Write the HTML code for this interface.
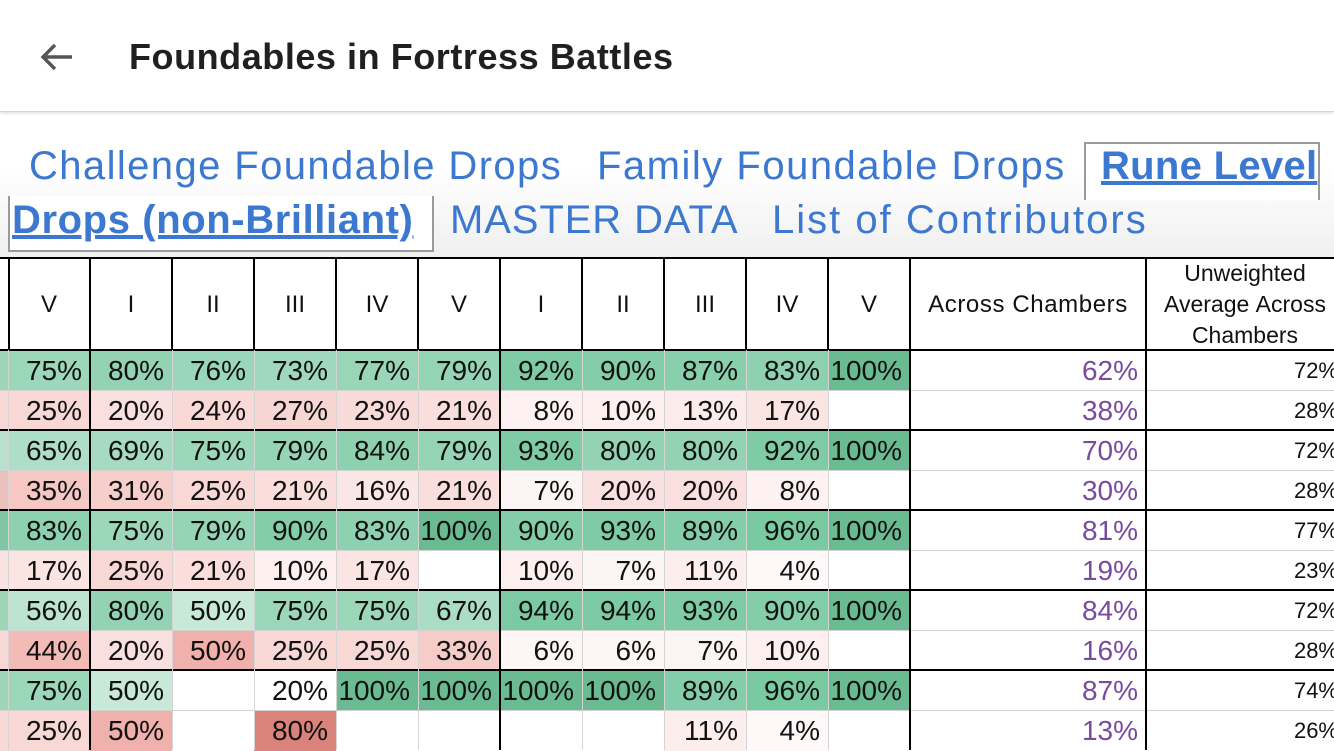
<!DOCTYPE html>
<html><head><meta charset="utf-8"><style>
html,body{margin:0;padding:0;width:1334px;height:750px;overflow:hidden;background:#fff;font-family:"Liberation Sans",Arial,sans-serif;}
.top{position:absolute;left:0;top:0;width:1334px;height:111px;background:#fff;border-bottom:1px solid #d8d8d8;box-shadow:0 1px 3px rgba(0,0,0,.15);z-index:5}
.title{position:absolute;left:129px;top:36px;font-size:36px;font-weight:bold;color:#202020;letter-spacing:0.55px}
.arrow{position:absolute;left:38px;top:40px;width:36px;height:34px}
.tabs{position:absolute;left:0;top:112px;width:1334px;height:146px;background:linear-gradient(#fff 0%,#fff 40%,#efefef 100%)}
.t{position:absolute;font-size:40px;color:#3c78d0;white-space:nowrap}
.act{font-weight:bold;text-decoration:underline;}
.box{position:absolute;border:2px solid #9a9a9a;background:#fff}
table{position:absolute;left:0;top:258px;border-collapse:collapse;table-layout:fixed;width:1338px}
td{padding:0;height:40px;line-height:30px;font-size:28px;text-align:right;padding-right:8px;white-space:nowrap;overflow:hidden;color:#111;box-sizing:border-box}
tr.h td{height:92px;font-size:24px;text-align:center;padding:0;line-height:31px;overflow:hidden}
td.p{color:#7a4a9e;padding-right:8px;font-size:28px}
td.u{font-size:22px;padding-right:0}
.l{position:absolute;}
</style></head><body>
<div class="top">
<svg class="arrow" viewBox="0 0 36 34"><path d="M34 17H6M17 5L5 17l12 12" stroke="#555" stroke-width="3.4" fill="none"/></svg>
<div class="title">Foundables in Fortress Battles</div>
</div>
<div class="tabs">
<div class="box" style="left:1084px;top:30px;width:232px;height:56px;border-bottom:none"></div>
<div class="box" style="left:8px;top:84px;width:422px;height:54px;border-top:none"></div>
<div class="t" style="left:29px;top:32px;letter-spacing:1.4px">Challenge Foundable Drops</div>
<div class="t" style="left:597px;top:32px;letter-spacing:1.5px">Family Foundable Drops</div>
<div class="t act" style="left:1101px;top:32px;letter-spacing:0.3px">Rune Level</div>
<div class="t act" style="left:12px;top:86px;letter-spacing:0.6px">Drops (non-Brilliant)</div>
<div class="t" style="left:450px;top:86px;letter-spacing:0.9px">MASTER DATA</div>
<div class="t" style="left:772px;top:86px;letter-spacing:2px">List of Contributors</div>
</div>
<table>
<colgroup><col style="width:8px"><col style="width:82px"><col style="width:82px"><col style="width:82px"><col style="width:82px"><col style="width:82px"><col style="width:82px"><col style="width:82px"><col style="width:82px"><col style="width:82px"><col style="width:82px"><col style="width:82px"><col style="width:236px"><col style="width:192px"></colgroup>
<tr class="h"><td></td><td>V</td><td>I</td><td>II</td><td>III</td><td>IV</td><td>V</td><td>I</td><td>II</td><td>III</td><td>IV</td><td>V</td><td style="letter-spacing:0.6px">Across Chambers</td><td style="font-size:23px;padding-left:6px">Unweighted<br>Average&nbsp;Across<br>Chambers</td></tr>
<tr><td style="background:#9dd6b7"></td><td style="background:rgb(156,215,186)">75%</td><td style="background:rgb(147,211,180)">80%</td><td style="background:rgb(154,214,185)">76%</td><td style="background:rgb(159,216,188)">73%</td><td style="background:rgb(153,214,184)">77%</td><td style="background:rgb(149,212,181)">79%</td><td style="background:rgb(127,203,166)">92%</td><td style="background:rgb(131,205,168)">90%</td><td style="background:rgb(136,207,172)">87%</td><td style="background:rgb(142,209,177)">83%</td><td style="background:rgb(106,187,145)">100%</td><td class="p">62%</td><td class="u">72%</td></tr>
<tr><td style="background:#f7d8d5"></td><td style="background:rgb(248,216,213)">25%</td><td style="background:rgb(249,224,222)">20%</td><td style="background:rgb(248,217,214)">24%</td><td style="background:rgb(247,213,210)">27%</td><td style="background:rgb(248,219,217)">23%</td><td style="background:rgb(249,222,220)">21%</td><td style="background:rgb(253,242,241)">8%</td><td style="background:rgb(252,239,238)">10%</td><td style="background:rgb(251,235,234)">13%</td><td style="background:rgb(250,229,227)">17%</td><td></td><td class="p">38%</td><td class="u">28%</td></tr>
<tr><td style="background:#b8e0cb"></td><td style="background:rgb(174,222,199)">65%</td><td style="background:rgb(166,219,193)">69%</td><td style="background:rgb(156,215,186)">75%</td><td style="background:rgb(149,212,181)">79%</td><td style="background:rgb(141,209,175)">84%</td><td style="background:rgb(149,212,181)">79%</td><td style="background:rgb(126,203,165)">93%</td><td style="background:rgb(147,211,180)">80%</td><td style="background:rgb(147,211,180)">80%</td><td style="background:rgb(127,203,166)">92%</td><td style="background:rgb(106,187,145)">100%</td><td class="p">70%</td><td class="u">72%</td></tr>
<tr><td style="background:#eec0bb"></td><td style="background:rgb(245,200,196)">35%</td><td style="background:rgb(246,207,203)">31%</td><td style="background:rgb(248,216,213)">25%</td><td style="background:rgb(249,222,220)">21%</td><td style="background:rgb(250,230,228)">16%</td><td style="background:rgb(249,222,220)">21%</td><td style="background:rgb(253,244,244)">7%</td><td style="background:rgb(249,224,222)">20%</td><td style="background:rgb(249,224,222)">20%</td><td style="background:rgb(253,242,241)">8%</td><td></td><td class="p">30%</td><td class="u">28%</td></tr>
<tr><td style="background:#7fc7a2"></td><td style="background:rgb(142,209,177)">83%</td><td style="background:rgb(156,215,186)">75%</td><td style="background:rgb(149,212,181)">79%</td><td style="background:rgb(131,205,168)">90%</td><td style="background:rgb(142,209,177)">83%</td><td style="background:rgb(106,187,145)">100%</td><td style="background:rgb(131,205,168)">90%</td><td style="background:rgb(126,203,165)">93%</td><td style="background:rgb(132,205,170)">89%</td><td style="background:rgb(121,201,161)">96%</td><td style="background:rgb(106,187,145)">100%</td><td class="p">81%</td><td class="u">77%</td></tr>
<tr><td style="background:#f9e3e1"></td><td style="background:rgb(250,229,227)">17%</td><td style="background:rgb(248,216,213)">25%</td><td style="background:rgb(249,222,220)">21%</td><td style="background:rgb(252,239,238)">10%</td><td style="background:rgb(250,229,227)">17%</td><td></td><td style="background:rgb(252,239,238)">10%</td><td style="background:rgb(253,244,244)">7%</td><td style="background:rgb(252,238,237)">11%</td><td style="background:rgb(254,249,248)">4%</td><td></td><td class="p">19%</td><td class="u">23%</td></tr>
<tr><td style="background:#9dd6b7"></td><td style="background:rgb(189,228,209)">56%</td><td style="background:rgb(147,211,180)">80%</td><td style="background:rgb(200,233,216)">50%</td><td style="background:rgb(156,215,186)">75%</td><td style="background:rgb(156,215,186)">75%</td><td style="background:rgb(171,221,197)">67%</td><td style="background:rgb(124,202,164)">94%</td><td style="background:rgb(124,202,164)">94%</td><td style="background:rgb(126,203,165)">93%</td><td style="background:rgb(131,205,168)">90%</td><td style="background:rgb(106,187,145)">100%</td><td class="p">84%</td><td class="u">72%</td></tr>
<tr><td style="background:#f7d8d5"></td><td style="background:rgb(242,187,182)">44%</td><td style="background:rgb(249,224,222)">20%</td><td style="background:rgb(240,176,171)">50%</td><td style="background:rgb(248,216,213)">25%</td><td style="background:rgb(248,216,213)">25%</td><td style="background:rgb(245,204,200)">33%</td><td style="background:rgb(253,246,245)">6%</td><td style="background:rgb(253,246,245)">6%</td><td style="background:rgb(253,244,244)">7%</td><td style="background:rgb(252,239,238)">10%</td><td></td><td class="p">16%</td><td class="u">28%</td></tr>
<tr><td style="background:#9dd6b7"></td><td style="background:rgb(156,215,186)">75%</td><td style="background:rgb(200,233,216)">50%</td><td></td><td>20%</td><td style="background:rgb(106,187,145)">100%</td><td style="background:rgb(106,187,145)">100%</td><td style="background:rgb(106,187,145)">100%</td><td style="background:rgb(106,187,145)">100%</td><td style="background:rgb(132,205,170)">89%</td><td style="background:rgb(121,201,161)">96%</td><td style="background:rgb(106,187,145)">100%</td><td class="p">87%</td><td class="u">74%</td></tr>
<tr><td style="background:#f7d8d5"></td><td style="background:rgb(248,216,213)">25%</td><td style="background:rgb(240,176,171)">50%</td><td></td><td style="background:rgb(218,131,122)">80%</td><td></td><td></td><td></td><td></td><td style="background:rgb(252,238,237)">11%</td><td style="background:rgb(254,249,248)">4%</td><td></td><td class="p">13%</td><td class="u">26%</td></tr>
</table>
<div class="l" style="left:0;top:257px;width:1334px;height:2px;background:#000"></div>
<div class="l" style="left:0;top:349px;width:1334px;height:2px;background:#000"></div>
<div class="l" style="left:0;top:429px;width:1334px;height:2px;background:#000"></div>
<div class="l" style="left:0;top:509px;width:1334px;height:2px;background:#000"></div>
<div class="l" style="left:0;top:589px;width:1334px;height:2px;background:#000"></div>
<div class="l" style="left:0;top:669px;width:1334px;height:2px;background:#000"></div>
<div class="l" style="left:0;top:390px;width:1334px;height:1px;background:#d4d4d4"></div>
<div class="l" style="left:0;top:470px;width:1334px;height:1px;background:#d4d4d4"></div>
<div class="l" style="left:0;top:550px;width:1334px;height:1px;background:#d4d4d4"></div>
<div class="l" style="left:0;top:630px;width:1334px;height:1px;background:#d4d4d4"></div>
<div class="l" style="left:0;top:710px;width:1334px;height:1px;background:#d4d4d4"></div>
<div class="l" style="left:8px;top:258px;width:2px;height:92px;background:#000"></div>
<div class="l" style="left:89px;top:258px;width:2px;height:492px;background:#000"></div>
<div class="l" style="left:171px;top:258px;width:2px;height:92px;background:#000"></div>
<div class="l" style="left:253px;top:258px;width:2px;height:92px;background:#000"></div>
<div class="l" style="left:335px;top:258px;width:2px;height:92px;background:#000"></div>
<div class="l" style="left:417px;top:258px;width:2px;height:92px;background:#000"></div>
<div class="l" style="left:499px;top:258px;width:2px;height:492px;background:#000"></div>
<div class="l" style="left:581px;top:258px;width:2px;height:92px;background:#000"></div>
<div class="l" style="left:663px;top:258px;width:2px;height:92px;background:#000"></div>
<div class="l" style="left:745px;top:258px;width:2px;height:92px;background:#000"></div>
<div class="l" style="left:827px;top:258px;width:2px;height:92px;background:#000"></div>
<div class="l" style="left:909px;top:258px;width:2px;height:492px;background:#000"></div>
<div class="l" style="left:1145px;top:258px;width:2px;height:492px;background:#000"></div>
<div class="l" style="left:8px;top:350px;width:1px;height:400px;background:#d4d4d4"></div>
<div class="l" style="left:172px;top:350px;width:1px;height:400px;background:#d4d4d4"></div>
<div class="l" style="left:254px;top:350px;width:1px;height:400px;background:#d4d4d4"></div>
<div class="l" style="left:336px;top:350px;width:1px;height:400px;background:#d4d4d4"></div>
<div class="l" style="left:418px;top:350px;width:1px;height:400px;background:#d4d4d4"></div>
<div class="l" style="left:582px;top:350px;width:1px;height:400px;background:#d4d4d4"></div>
<div class="l" style="left:664px;top:350px;width:1px;height:400px;background:#d4d4d4"></div>
<div class="l" style="left:746px;top:350px;width:1px;height:400px;background:#d4d4d4"></div>
<div class="l" style="left:828px;top:350px;width:1px;height:400px;background:#d4d4d4"></div>
</body></html>
